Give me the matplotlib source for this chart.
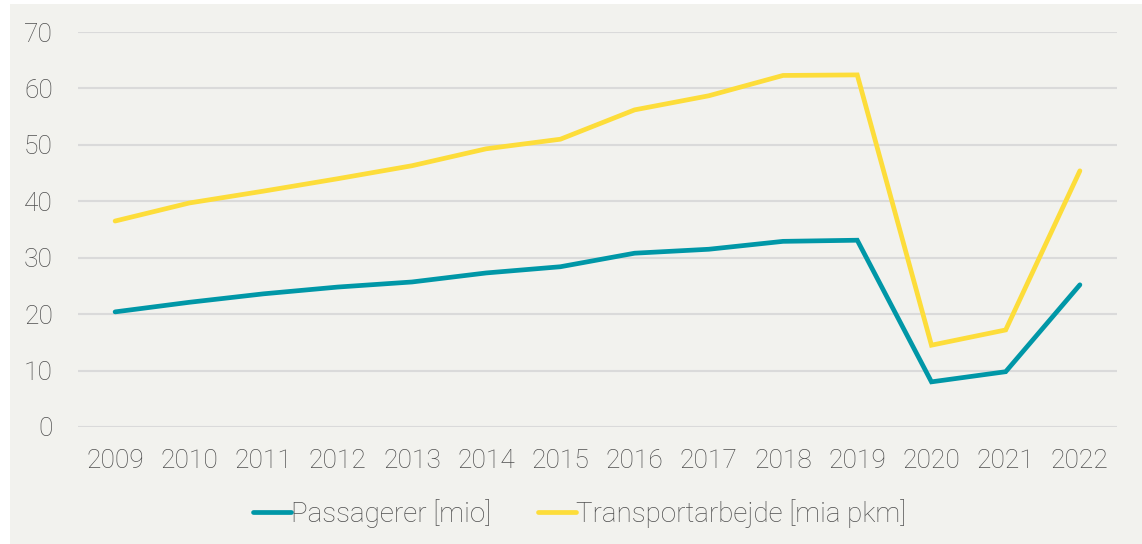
"""Passagerer og transportarbejde 2009-2022."""

import matplotlib.pyplot as plt
from matplotlib.patches import Rectangle

years = ["2009", "2010", "2011", "2012", "2013", "2014", "2015",
         "2016", "2017", "2018", "2019", "2020", "2021", "2022"]
passagerer = [20.4, 22.1, 23.6, 24.8, 25.7, 27.3, 28.4,
              30.8, 31.5, 32.9, 33.1, 8.0, 9.8, 25.2]
transportarbejde = [36.5, 39.7, 41.8, 44.0, 46.3, 49.3, 51.0,
                    56.2, 58.7, 62.3, 62.4, 14.5, 17.2, 45.4]
y_ticks = [0, 10, 20, 30, 40, 50, 60, 70]

BG = "#f2f2ee"
TEAL = "#0097a7"
YELLOW = "#fddd3a"
TEXT = "#4f4f4f"
GRID = "#dadada"

plt.rcParams["font.family"] = ["Roboto", "DejaVu Sans"]
plt.rcParams["font.weight"] = "light"

W, H = 1142, 544
fig = plt.figure(figsize=(W / 100, H / 100), dpi=100, facecolor="white")
fig.add_artist(Rectangle((10 / W, 0), 1 - 10 / W, 1 - 4 / H,
                         transform=fig.transFigure, facecolor=BG,
                         edgecolor="none", zorder=-10))

ax = fig.add_axes([78 / W, 1 - 427 / H, (1117 - 78) / W, (427 - 32) / H])
ax.set_facecolor("none")

x = range(len(years))
ax.plot(x, passagerer, color=TEAL, lw=3.4, label="Passagerer [mio]",
        solid_joinstyle="miter", solid_capstyle="round")
ax.plot(x, transportarbejde, color=YELLOW, lw=3.4,
        label="Transportarbejde [mia pkm]",
        solid_joinstyle="miter", solid_capstyle="round")

ax.set_xlim(-0.5, len(years) - 0.5)
ax.set_ylim(0, 70)
ax.set_xticks(list(x))
ax.set_xticklabels(years)
ax.set_yticks(y_ticks)
ax.yaxis.grid(True, color=GRID, lw=1.5)
ax.set_axisbelow(True)
for s in ax.spines.values():
    s.set_visible(False)
ax.tick_params(axis="both", length=0, labelsize=19, labelcolor=TEXT)
ax.tick_params(axis="x", pad=16)
ax.tick_params(axis="y", pad=18)

leg = ax.legend(loc="center", bbox_to_anchor=(0.483, -0.218), ncol=2,
                frameon=False, fontsize=20, handlelength=1.35,
                handletextpad=0.0, columnspacing=1.7, labelcolor=TEXT)

fig.savefig("out.png", dpi=100, facecolor=fig.get_facecolor())
